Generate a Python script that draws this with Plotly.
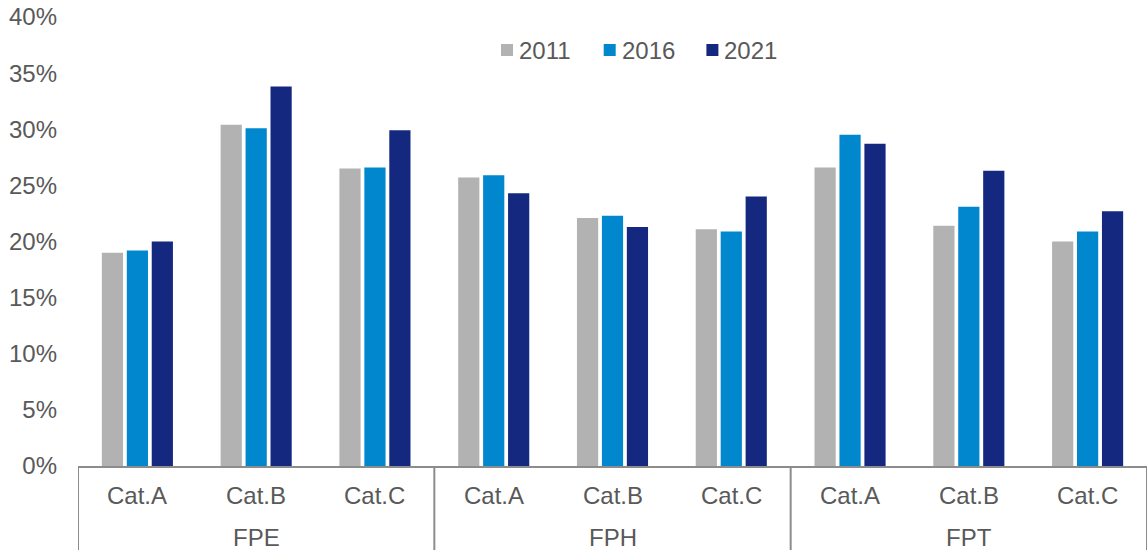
import plotly.graph_objects as go

# Grouped bar data: three groups x three categories, one series per year
groups = ["FPE", "FPH", "FPT"]
categories = ["Cat.A", "Cat.B", "Cat.C"]
years = ["2011", "2016", "2021"]
colors = ["#B2B2B2", "#0087CD", "#14287F"]

values_2011 = [19.0, 30.4, 26.5, 25.7, 22.1, 21.1, 26.6, 21.4, 20.0]
values_2016 = [19.2, 30.1, 26.6, 25.9, 22.3, 20.9, 29.5, 23.1, 20.9]
values_2021 = [20.0, 33.8, 29.9, 24.3, 21.3, 24.0, 28.7, 26.3, 22.7]
series = [values_2011, values_2016, values_2021]

y_ticks = [0, 5, 10, 15, 20, 25, 30, 35, 40]

TEXT = "#595959"
AXIS = "#8C8C8C"
FONT = "Liberation Sans, Arial, sans-serif"
FS = 24

W, H = 1147, 550
ML, MR, MT, MB = 78, 0, 17, 84
plot_w = W - ML - MR
plot_h = H - MT - MB

n_cat = len(groups) * len(categories)
xpos = list(range(n_cat))
cat_labels = [c for _ in groups for c in categories]

fig = go.Figure()
for name, vals, col in zip(years, series, colors):
    fig.add_trace(go.Bar(
        x=xpos, y=vals, name=name,
        marker=dict(color=col, line=dict(width=0)),
        showlegend=False,
    ))

def py(pix):
    # pixel row -> paper y
    return (H - MB - pix) / plot_h

def px(pix):
    # pixel column -> paper x
    return (pix - ML) / plot_w

shapes = []
annotations = []

# category labels (first row) and group labels (second row)
for i, lab in enumerate(cat_labels):
    annotations.append(dict(x=i, y=py(495), xref="x", yref="paper", text=lab,
                            showarrow=False, xanchor="center", yanchor="middle",
                            font=dict(family=FONT, size=FS, color=TEXT)))
for g, gname in enumerate(groups):
    center = g * len(categories) + (len(categories) - 1) / 2
    annotations.append(dict(x=center, y=py(537), xref="x", yref="paper", text=gname,
                            showarrow=False, xanchor="center", yanchor="middle",
                            font=dict(family=FONT, size=FS, color=TEXT)))

# group divider lines below the axis
for g in range(len(groups) + 1):
    xb = g * len(categories) - 0.5
    shapes.append(dict(type="line", xref="x", yref="paper", x0=xb, x1=xb,
                       y0=0, y1=py(552), line=dict(color=AXIS, width=2)))

# legend: coloured squares with year labels
leg_x0 = 501
leg_step = 102.7
for k, (name, col) in enumerate(zip(years, colors)):
    sx = leg_x0 + k * leg_step
    shapes.append(dict(type="rect", xref="paper", yref="paper",
                       x0=px(sx), x1=px(sx + 12), y0=py(56), y1=py(44),
                       fillcolor=col, line=dict(width=0)))
    annotations.append(dict(x=px(sx + 16), y=py(50), xref="paper", yref="paper",
                            text=name, showarrow=False, xanchor="left", yanchor="middle",
                            font=dict(family=FONT, size=FS, color=TEXT)))

fig.update_layout(
    width=W, height=H,
    margin=dict(l=ML, r=MR, t=MT, b=MB, pad=0),
    paper_bgcolor="white", plot_bgcolor="white",
    barmode="group", bargap=0.37, bargroupgap=0.15,
    shapes=shapes, annotations=annotations,
    font=dict(family=FONT, size=FS, color=TEXT),
    xaxis=dict(range=[-0.5, n_cat - 0.5], showticklabels=False, showgrid=False,
               zeroline=False, showline=True, linecolor=AXIS, linewidth=1.5,
               ticks="", fixedrange=True),
    yaxis=dict(range=[0, 40], tickvals=y_ticks, ticktext=[f"{v}%" for v in y_ticks],
               showgrid=False, zeroline=False, showline=False, ticks="",
               ticklabelstandoff=20,
               tickfont=dict(family=FONT, size=FS, color=TEXT), fixedrange=True),
)

fig.write_html("out.html", config={"displayModeBar": False})
